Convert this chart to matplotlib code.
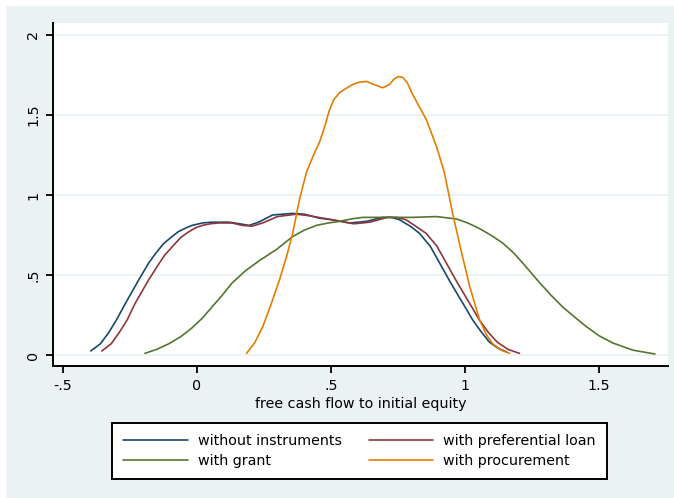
import matplotlib
matplotlib.use("Agg")
import matplotlib.pyplot as plt
from matplotlib.patches import Rectangle

# couleurs style Stata s2color
BG = "#eaf2f3"
C_NAVY = "#1a476f"
C_MAROON = "#90353b"
C_GREEN = "#55752f"
C_ORANGE = "#e37e00"

# densités
x_without = [-0.396, -0.36, -0.329, -0.30, -0.266, -0.217, -0.18, -0.154, -0.125, -0.093,
             -0.07, -0.04, -0.018, 0.02, 0.056, 0.12, 0.159, 0.194, 0.23, 0.282, 0.357,
             0.40, 0.457, 0.505, 0.569, 0.632, 0.692, 0.725, 0.756, 0.80, 0.83, 0.87,
             0.905, 0.94, 0.968, 1.0, 1.028, 1.06, 1.091, 1.125, 1.154]
y_without = [0.025, 0.07, 0.14, 0.22, 0.325, 0.47, 0.575, 0.635, 0.695, 0.74,
             0.77, 0.795, 0.81, 0.825, 0.83, 0.83, 0.82, 0.81, 0.83, 0.875, 0.885,
             0.88, 0.855, 0.845, 0.825, 0.835, 0.86, 0.86, 0.845, 0.80, 0.76, 0.68,
             0.575, 0.47, 0.39, 0.30, 0.22, 0.145, 0.08, 0.04, 0.02]

x_loan = [-0.355, -0.32, -0.29, -0.26, -0.23, -0.18, -0.14, -0.12, -0.085, -0.06,
          -0.035, -0.005, 0.02, 0.05, 0.08, 0.13, 0.17, 0.205, 0.245, 0.30, 0.37,
          0.42, 0.47, 0.52, 0.585, 0.645, 0.71, 0.745, 0.78, 0.82, 0.855, 0.895,
          0.93, 0.965, 0.993, 1.025, 1.053, 1.085, 1.12, 1.16, 1.203]
y_loan = [0.025, 0.07, 0.14, 0.22, 0.325, 0.47, 0.575, 0.625, 0.69, 0.735,
          0.765, 0.795, 0.81, 0.82, 0.825, 0.825, 0.81, 0.805, 0.825, 0.865, 0.88,
          0.87, 0.855, 0.84, 0.82, 0.83, 0.86, 0.86, 0.845, 0.80, 0.76, 0.68,
          0.575, 0.47, 0.39, 0.30, 0.22, 0.145, 0.08, 0.035, 0.01]

x_grant = [-0.194, -0.15, -0.105, -0.06, -0.018, 0.02, 0.056, 0.095, 0.131, 0.18,
           0.233, 0.265, 0.297, 0.327, 0.357, 0.40, 0.446, 0.49, 0.532, 0.575, 0.618,
           0.707, 0.804, 0.893, 0.968, 1.01, 1.054, 1.10, 1.14, 1.18, 1.215, 1.279,
           1.32, 1.364, 1.41, 1.454, 1.50, 1.551, 1.626, 1.708]
y_grant = [0.01, 0.035, 0.07, 0.115, 0.17, 0.23, 0.30, 0.375, 0.45, 0.525,
           0.59, 0.625, 0.66, 0.70, 0.74, 0.78, 0.81, 0.825, 0.835, 0.85, 0.86,
           0.86, 0.86, 0.865, 0.85, 0.825, 0.79, 0.745, 0.70, 0.64, 0.575, 0.45,
           0.375, 0.30, 0.235, 0.175, 0.12, 0.075, 0.03, 0.006]

x_proc = [0.185, 0.215, 0.245, 0.275, 0.308, 0.335, 0.357, 0.382, 0.408, 0.435,
          0.457, 0.477, 0.494, 0.51, 0.532, 0.555, 0.58, 0.605, 0.632, 0.662,
          0.692, 0.718, 0.735, 0.752, 0.768, 0.785, 0.804, 0.83, 0.856, 0.894,
          0.923, 0.953, 0.987, 1.017, 1.054, 1.08, 1.103, 1.135, 1.166]
y_proc = [0.01, 0.075, 0.175, 0.31, 0.47, 0.62, 0.76, 0.97, 1.14, 1.25,
          1.33, 1.43, 1.53, 1.595, 1.64, 1.665, 1.69, 1.705, 1.71, 1.69,
          1.67, 1.69, 1.725, 1.74, 1.735, 1.70, 1.63, 1.55, 1.47, 1.30,
          1.14, 0.89, 0.64, 0.43, 0.22, 0.125, 0.07, 0.03, 0.01]

xticks = [-0.5, 0, 0.5, 1, 1.5]
xtick_labels = ["-.5", "0", ".5", "1", "1.5"]
yticks = [0, 0.5, 1, 1.5, 2]
ytick_labels = ["0", ".5", "1", "1.5", "2"]

plt.rcParams['font.family'] = ['DejaVu Sans']
FS = 10.3

fig = plt.figure(figsize=(6.74, 4.98), dpi=100)
fig.patch.set_facecolor("white")
# zone grise du graphique (petite marge blanche en haut/gauche)
fig.patches.append(Rectangle((6 / 674, 0), 1, 1 - 6 / 498, transform=fig.transFigure,
                             facecolor=BG, edgecolor="none", zorder=-10))

ax = fig.add_axes([53 / 674, 1 - 366 / 498, (668 - 53) / 674, (366 - 23) / 498])
ax.set_facecolor("white")

lw = 1.2
kw = dict(lw=lw, solid_joinstyle="round", solid_capstyle="round")
l1, = ax.plot(x_without, y_without, color=C_NAVY, label="without instruments", **kw)
l2, = ax.plot(x_loan, y_loan, color=C_MAROON, label="with preferential loan", **kw)
l3, = ax.plot(x_grant, y_grant, color=C_GREEN, label="with grant", **kw)
l4, = ax.plot(x_proc, y_proc, color=C_ORANGE, label="with procurement", **kw)

ax.set_xlim(-0.537, 1.757)
ax.set_ylim(-0.069, 2.075)

ax.set_yticks(yticks)
ax.set_yticklabels(ytick_labels, rotation=90, va="center")
ax.set_xticks(xticks)
ax.set_xticklabels(xtick_labels)
ax.tick_params(axis="both", direction="out", length=5, width=1.3, colors="black",
               labelsize=FS, pad=4)
ax.grid(axis="y", color=BG, lw=1.4)
ax.set_axisbelow(True)

for s in ["top", "right"]:
    ax.spines[s].set_visible(False)
for s in ["left", "bottom"]:
    ax.spines[s].set_linewidth(1.4)

ax.set_xlabel("free cash flow to initial equity", fontsize=FS, labelpad=3)

leg = fig.legend([l1, l3, l2, l4],
                 [l1.get_label(), l3.get_label(), l2.get_label(), l4.get_label()],
                 ncol=2, loc="center",
                 bbox_to_anchor=(359.5 / 674, 1 - 451 / 498),
                 fontsize=FS, frameon=True, fancybox=False,
                 edgecolor="black", framealpha=1, handlelength=4.5, handletextpad=0.7,
                 borderpad=0.8, labelspacing=0.4, columnspacing=1.9, borderaxespad=0)
leg.get_frame().set_linewidth(1.4)

fig.savefig("out.png", dpi=100)
